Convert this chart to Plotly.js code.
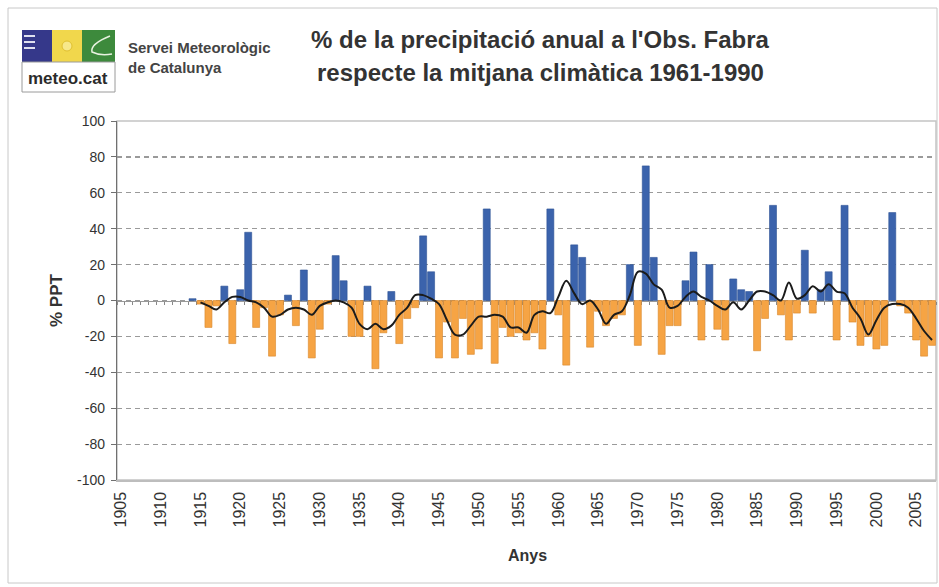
<!DOCTYPE html>
<html>
<head>
<meta charset="utf-8">
<script src="https://cdn.plot.ly/plotly-3.0.1.min.js"></script>
<style>
html,body{margin:0;padding:0;background:#fff;}
#chart{width:939px;height:587px;}
</style>
</head>
<body>
<div id="chart"></div>
<script>
// ---- data ----
const years = [1914,1915,1916,1917,1918,1919,1920,1921,1922,1923,1924,1925,1926,1927,1928,1929,
1930,1931,1932,1933,1934,1935,1936,1937,1938,1939,1940,1941,1942,1943,1944,1945,1946,1947,1948,1949,
1950,1951,1952,1953,1954,1955,1956,1957,1958,1959,1960,1961,1962,1963,1964,1965,1966,1967,1968,1969,
1970,1971,1972,1973,1974,1975,1976,1977,1978,1979,1980,1981,1982,1983,1984,1985,1986,1987,1988,1989,
1990,1991,1992,1993,1994,1995,1996,1997,1998,1999,2000,2001,2002,2003,2004,2005,2006,2007];

const pptPct = [1,-2,-15,-3,8,-24,6,38,-15,-4,-31,-8,3,-14,17,-32,
-16,-2,25,11,-20,-20,8,-38,-18,5,-24,-10,-4,36,16,-32,-12,-32,-10,-30,
-27,51,-35,-15,-20,-18,-22,-18,-27,51,-8,-36,31,24,-26,-6,-14,-10,-8,20,
-25,75,24,-30,-14,-14,11,27,-22,20,-16,-22,12,6,5,-28,-10,53,-8,-22,
-7,28,-7,6,16,-22,53,-12,-25,-20,-27,-25,49,-3,-7,-22,-31,-25];

const smoothPct = [null,-1,-3,-5,-1,2,2,0,-1,-4,-9,-8,-5,-4,-5,-8,
-3,-1,0,-1,-4,-13,-16,-13,-16,-14,-8,-4,3,3,1,-2,-11,-19,-19,-14,
-9,-9,-8,-9,-15,-15,-18,-8,-6,-7,2,11,4,-2,0,-5,-13,-8,-6,3,
16,15,9,6,-4,-3,2,5,2,0,-3,-5,-1,-5,0,5,5,3,0,10,
1,3,8,5,9,5,4,-4,-10,-19,-11,-4,-2,-2,-4,-10,-17,-22];

const tickYears = [1905,1910,1915,1920,1925,1930,1935,1940,1945,1950,1955,1960,1965,1970,1975,1980,1985,1990,1995,2000,2005];
const yTicks = [-100,-80,-60,-40,-20,0,20,40,60,80,100];

const titleLine1 = "% de la precipitació anual a l'Obs. Fabra";
const titleLine2 = "respecte la mitjana climàtica 1961-1990";

// ---- styling helpers (pixel -> paper) ----
const L = 117, R = 3, T = 121, B = 107, W = 939, H = 587;
const PW = W - L - R, PH = H - T - B;
const px = x => (x - L) / PW;
const py = y => (H - B - y) / PH;

const blue = '#3B63AC', orange = '#F6A444';

const posVals = pptPct.map(v => v > 0 ? v : null);
const negVals = pptPct.map(v => v < 0 ? v : null);

const traces = [
  {type:'scatter', x:[], y:[], xaxis:'x2', yaxis:'y', hoverinfo:'skip', showlegend:false},
  {type:'bar', x:years, y:posVals, marker:{color:blue, line:{color:'#2E5395', width:0.6}}, hoverinfo:'x+y'},
  {type:'bar', x:years, y:negVals, marker:{color:orange, line:{color:'#D9862A', width:0.6}}, hoverinfo:'x+y'},
  {type:'scatter', mode:'lines', x:years, y:smoothPct, line:{color:'#1b1b1b', width:2, shape:'spline', smoothing:1}, connectgaps:false, hoverinfo:'x+y'}
];

const font = 'Liberation Sans, Arial, sans-serif';

const shapes = [
  // outer frame
  {type:'rect', xref:'paper', yref:'paper', x0:px(8), x1:px(937), y0:py(583), y1:py(8), line:{color:'#c8c8c8', width:1}, layer:'below'},
  // plot area border
  {type:'rect', xref:'paper', yref:'paper', x0:0, x1:1, y0:0, y1:1, line:{color:'#c4c4c4', width:1.5}, layer:'below'},
  // logo blocks
  {type:'rect', xref:'paper', yref:'paper', x0:px(22), x1:px(52), y0:py(62), y1:py(30), fillcolor:'#35388a', line:{width:0}},
  {type:'rect', xref:'paper', yref:'paper', x0:px(52), x1:px(82), y0:py(62), y1:py(30), fillcolor:'#f1d74c', line:{width:0}},
  {type:'rect', xref:'paper', yref:'paper', x0:px(82), x1:px(115), y0:py(62), y1:py(30), fillcolor:'#3d8a3c', line:{width:0}},
  {type:'line', xref:'paper', yref:'paper', x0:px(24), x1:px(35), y0:py(36), y1:py(36), line:{color:'#dfe0f0', width:2}},
  {type:'line', xref:'paper', yref:'paper', x0:px(24), x1:px(35), y0:py(42), y1:py(42), line:{color:'#dfe0f0', width:2}},
  {type:'line', xref:'paper', yref:'paper', x0:px(24), x1:px(35), y0:py(48), y1:py(48), line:{color:'#dfe0f0', width:2}},
  {type:'circle', xref:'paper', yref:'paper', x0:px(62), x1:px(72), y0:py(51), y1:py(41), fillcolor:'#f7e88a', line:{color:'#e0c030', width:1}},
  {type:'path', xref:'paper', yref:'paper', path:`M ${px(110)} ${py(36)} Q ${px(90)} ${py(44)} ${px(92)} ${py(52)} Q ${px(100)} ${py(56)} ${px(112)} ${py(54)}`, line:{color:'#e8f2e0', width:1.5}},
  {type:'rect', xref:'paper', yref:'paper', x0:px(22), x1:px(115), y0:py(92), y1:py(62), fillcolor:'#ffffff', line:{color:'#9a9a9a', width:1}}
];

const annotations = [
  {text:'<b>'+titleLine2+'</b>', xref:'paper', yref:'paper', x:px(540), y:py(72), showarrow:false, xanchor:'center', yanchor:'middle',
   font:{family:font, size:24, color:'#333'}},
  {text:'<b>% PPT</b>', xref:'paper', yref:'paper', x:px(45), y:0.5, textangle:-90, showarrow:false,
   font:{family:font, size:17, color:'#333'}},
  {text:'<b>Anys</b>', xref:'paper', yref:'paper', x:px(527), y:py(555), showarrow:false, yanchor:'middle',
   font:{family:font, size:16, color:'#333'}},
  {text:'<b>meteo.cat</b>', xref:'paper', yref:'paper', x:px(68), y:py(78), showarrow:false, xanchor:'center', yanchor:'middle',
   font:{family:font, size:17, color:'#2b2b2b'}},
  {text:'<b>Servei Meteorològic<br>de Catalunya</b>', xref:'paper', yref:'paper', x:px(126), y:py(58), showarrow:false, xanchor:'left', yanchor:'middle', align:'left',
   font:{family:font, size:15, color:'#444'}}
];

const layout = {
  width:W, height:H,
  margin:{l:L, r:R, t:T, b:B, pad:0},
  paper_bgcolor:'#ffffff', plot_bgcolor:'#ffffff',
  showlegend:false,
  barmode:'relative', bargap:0.12,
  title:{text:'<b>'+titleLine1+'</b>', xref:'paper', x:px(540), xanchor:'center', yref:'container', y:1-40/H, yanchor:'middle',
         font:{family:font, size:24, color:'#333'}},
  xaxis:{range:[1904.5, 2007.5], tickvals:tickYears, ticktext:tickYears.map(String), tickangle:-90,
         tickfont:{family:font, size:16, color:'#333'}, showgrid:false, zeroline:false,
         showline:true, linecolor:'#bdbdbd', linewidth:1.5, ticks:'', ticklabelstandoff:4, fixedrange:true},
  xaxis2:{overlaying:'x', anchor:'free', position:0.5, range:[1904.5, 2007.5], tick0:1904.5, dtick:1,
          ticks:'outside', ticklen:3, tickcolor:'#888', showticklabels:false, showgrid:false, zeroline:false,
          showline:true, linecolor:'#999', linewidth:1, layer:'below traces', side:'bottom'},
  yaxis:{range:[-100,100], tickvals:yTicks, ticktext:yTicks.map(String),
         tickfont:{family:font, size:14, color:'#333'}, showgrid:true, gridcolor:'#9a9a9a', griddash:'5px,4px', gridwidth:1.2,
         zeroline:false, showline:true, linecolor:'#707070', linewidth:1.2, ticks:'outside', ticklen:5, tickcolor:'#707070',
         ticklabelstandoff:3, fixedrange:true},
  shapes:shapes,
  annotations:annotations
};

Plotly.newPlot('chart', traces, layout, {displayModeBar:false, staticPlot:true});
</script>
</body>
</html>
